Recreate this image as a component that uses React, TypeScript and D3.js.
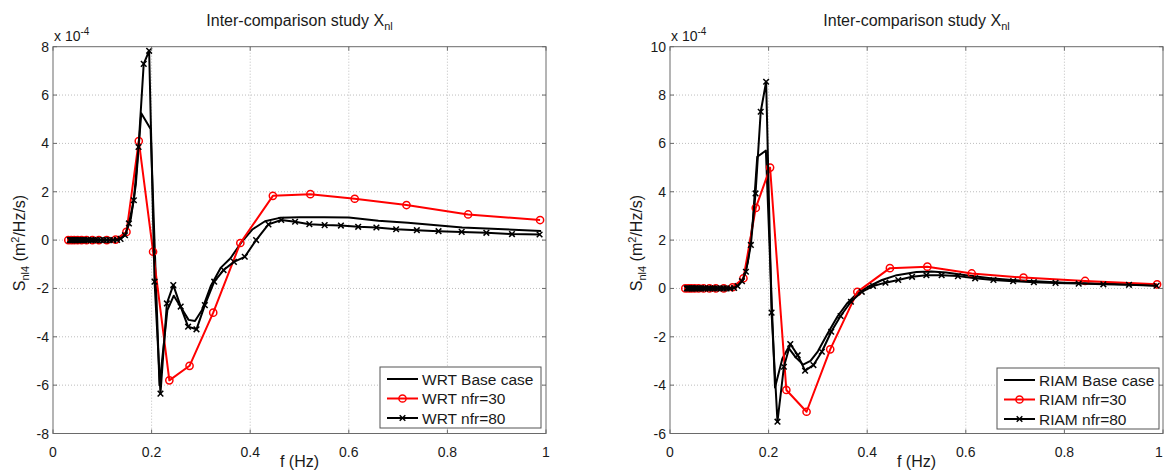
import React from "react";
import * as d3 from "d3";

// ---------- data (values in units of 1e-4 m^2/Hz/s) ----------
const xTicks = [0, 0.2, 0.4, 0.6, 0.8, 1];
const xTickLabels = ["0", "0.2", "0.4", "0.6", "0.8", "1"];
const yTicksLeft = [-8, -6, -4, -2, 0, 2, 4, 6, 8];
const yTicksRight = [-6, -4, -2, 0, 2, 4, 6, 8, 10];

const freqNfr30 = [0.031, 0.037, 0.043, 0.05, 0.058, 0.068, 0.08, 0.093, 0.109, 0.127, 0.149, 0.174, 0.203, 0.236, 0.277, 0.325, 0.38, 0.446, 0.522, 0.612, 0.717, 0.842, 0.988];
const freqNfr80 = [0.034, 0.036, 0.038, 0.04, 0.043, 0.045, 0.048, 0.051, 0.054, 0.057, 0.061, 0.064, 0.068, 0.072, 0.077, 0.081, 0.086, 0.091, 0.097, 0.103, 0.109, 0.115, 0.122, 0.13, 0.137, 0.146, 0.154, 0.164, 0.1735, 0.184, 0.195, 0.206, 0.218, 0.231, 0.244, 0.259, 0.274, 0.291, 0.308, 0.327, 0.346, 0.367, 0.389, 0.412, 0.437, 0.463, 0.491, 0.52, 0.551, 0.584, 0.619, 0.656, 0.696, 0.738, 0.782, 0.829, 0.879, 0.931, 0.987];

const wrtBaseFreq = [0.034, 0.05, 0.07, 0.09, 0.11, 0.125, 0.137, 0.148, 0.158, 0.168, 0.179, 0.198, 0.216, 0.232, 0.245, 0.26, 0.275, 0.288, 0.302, 0.32, 0.34, 0.36, 0.383, 0.405, 0.43, 0.46, 0.5, 0.55, 0.6, 0.66, 0.72, 0.83, 0.99];
const wrtBase = [0, 0, 0, 0, 0, 0.02, 0.08, 0.3, 0.9, 2.3, 5.25, 4.6, -6.0, -2.9, -2.3, -2.8, -3.3, -3.35, -2.9, -1.9, -1.15, -0.75, -0.07, 0.45, 0.78, 0.92, 0.95, 0.95, 0.93, 0.8, 0.72, 0.52, 0.38];
const wrtNfr30 = [0, 0, 0, 0, 0, 0, 0, 0, 0, 0.02, 0.34, 4.1, -0.48, -5.8, -5.2, -3.0, -0.12, 1.83, 1.9, 1.71, 1.45, 1.06, 0.83];
const wrtNfr80 = [0, 0, 0, 0, 0, 0, 0, 0, 0, 0, 0, 0, 0, 0, 0, 0, 0, 0, 0, 0, 0, 0, 0, 0.01, 0.05, 0.2, 0.69, 1.65, 3.85, 7.29, 7.83, -1.72, -6.35, -2.62, -1.86, -2.75, -3.58, -3.69, -2.69, -1.72, -1.24, -0.9, -0.69, 0.0, 0.65, 0.83, 0.76, 0.66, 0.62, 0.6, 0.55, 0.52, 0.45, 0.41, 0.37, 0.34, 0.3, 0.25, 0.23];

const riamBaseFreq = [0.034, 0.05, 0.07, 0.09, 0.11, 0.125, 0.137, 0.148, 0.158, 0.168, 0.177, 0.1945, 0.213, 0.228, 0.24, 0.255, 0.27, 0.285, 0.3, 0.32, 0.34, 0.36, 0.38, 0.4, 0.43, 0.46, 0.5, 0.53, 0.56, 0.6, 0.65, 0.7, 0.8, 0.9, 0.99];
const riamBase = [0, 0, 0, 0, 0, 0.02, 0.1, 0.35, 1.1, 2.8, 5.45, 5.7, -4.1, -2.9, -2.45, -2.85, -3.15, -3.0, -2.6, -1.85, -1.15, -0.6, -0.2, 0.05, 0.35, 0.55, 0.68, 0.7, 0.66, 0.55, 0.42, 0.34, 0.24, 0.18, 0.12];
const riamNfr30 = [0, 0, 0, 0, 0, 0, 0, 0, 0, 0.05, 0.42, 3.33, 5.0, -4.2, -5.1, -2.52, -0.14, 0.84, 0.9, 0.62, 0.45, 0.31, 0.17];
const riamNfr80 = [0, 0, 0, 0, 0, 0, 0, 0, 0, 0, 0, 0, 0, 0, 0, 0, 0, 0, 0, 0, 0, 0, 0, 0.02, 0.1, 0.3, 0.69, 1.8, 3.93, 7.31, 8.55, -1.0, -5.51, -3.24, -2.3, -2.76, -3.4, -3.17, -2.62, -1.79, -1.14, -0.55, -0.14, 0.1, 0.24, 0.35, 0.48, 0.55, 0.55, 0.51, 0.42, 0.35, 0.3, 0.26, 0.23, 0.2, 0.17, 0.15, 0.11];

const legendWRT = ["WRT Base case", "WRT nfr=30", "WRT nfr=80"];
const legendRIAM = ["RIAM Base case", "RIAM nfr=30", "RIAM nfr=80"];

// ---------- layout ----------
const W = 1164;
const H = 470;
const Y_TOP = 46.7;
const Y_BOT = 433.5;
const FONT = "'Liberation Sans', Arial, Helvetica, sans-serif";

type Series = { f: number[]; v: number[]; color: string; marker: "none" | "o" | "x" };

function zip(f: number[], v: number[]): [number, number][] {
  return f.map((x, i) => [x, v[i]] as [number, number]);
}

function Marker({ type, x, y, color }: { type: string; x: number; y: number; color: string }) {
  if (type === "o") return <circle cx={x} cy={y} r={3.6} fill="none" stroke={color} strokeWidth={1.5} />;
  if (type === "x") {
    const s = 2.8;
    return (
      <g stroke={color} strokeWidth={1.5}>
        <line x1={x - s} y1={y - s} x2={x + s} y2={y + s} />
        <line x1={x - s} y1={y + s} x2={x + s} y2={y - s} />
      </g>
    );
  }
  return null;
}

function Panel(props: {
  id: string;
  x0: number;
  x1: number;
  yDomain: [number, number];
  yTicks: number[];
  series: Series[];
  legend: string[];
  legendBox: { x: number; y: number; w: number; h: number };
  ylabelX: number;
}) {
  const { id, x0, x1, yDomain, yTicks, series, legend, legendBox, ylabelX } = props;
  const xs = d3.scaleLinear().domain([0, 1]).range([x0, x1]);
  const ys = d3.scaleLinear().domain(yDomain).range([Y_BOT, Y_TOP]);
  const line = d3
    .line<[number, number]>()
    .x((d) => xs(d[0]))
    .y((d) => ys(d[1]));
  const cx = (x0 + x1) / 2;
  const axisColor = "#6a6a6a";
  const tl = 4;
  return (
    <g>
      <defs>
        <clipPath id={id}>
          <rect x={x0} y={Y_TOP - 6} width={x1 - x0} height={Y_BOT - Y_TOP + 12} />
        </clipPath>
      </defs>
      <rect x={x0} y={Y_TOP} width={x1 - x0} height={Y_BOT - Y_TOP} fill="#fff" />
      {/* grid */}
      {xTicks.slice(1, -1).map((t) => (
        <line key={"gx" + t} x1={xs(t)} x2={xs(t)} y1={Y_TOP} y2={Y_BOT} stroke="#bdbdbd" strokeWidth={1} strokeDasharray="1,2" />
      ))}
      {yTicks.slice(1, -1).map((t) => (
        <line key={"gy" + t} x1={x0} x2={x1} y1={ys(t)} y2={ys(t)} stroke="#bdbdbd" strokeWidth={1} strokeDasharray="1,2" />
      ))}
      {/* series */}
      <g clipPath={`url(#${id})`}>
        {series.map((s, i) => (
          <g key={i}>
            <path d={line(zip(s.f, s.v)) || ""} fill="none" stroke={s.color} strokeWidth={2} strokeLinejoin="round" />
            {s.marker !== "none" &&
              s.f.map((f, j) => <Marker key={j} type={s.marker} x={xs(f)} y={ys(s.v[j])} color={s.color} />)}
          </g>
        ))}
      </g>
      {/* axes box */}
      <rect x={x0} y={Y_TOP} width={x1 - x0} height={Y_BOT - Y_TOP} fill="none" stroke={axisColor} strokeWidth={1} />
      {xTicks.map((t) => (
        <g key={"tx" + t} stroke={axisColor}>
          <line x1={xs(t)} x2={xs(t)} y1={Y_BOT} y2={Y_BOT - tl} />
          <line x1={xs(t)} x2={xs(t)} y1={Y_TOP} y2={Y_TOP + tl} />
        </g>
      ))}
      {yTicks.map((t) => (
        <g key={"ty" + t} stroke={axisColor}>
          <line x1={x0} x2={x0 + tl} y1={ys(t)} y2={ys(t)} />
          <line x1={x1} x2={x1 - tl} y1={ys(t)} y2={ys(t)} />
        </g>
      ))}
      {/* tick labels */}
      {xTicks.map((t, i) => (
        <text key={"lx" + t} x={Math.min(xs(t), W - 5)} y={457} textAnchor="middle" fontSize={14} fill="#1a1a1a">
          {xTickLabels[i]}
        </text>
      ))}
      {yTicks.map((t) => (
        <text key={"ly" + t} x={x0 - 4} y={ys(t) + 5} textAnchor="end" fontSize={14} fill="#1a1a1a">
          {t}
        </text>
      ))}
      {/* exponent */}
      <text x={x0 + 1} y={41} fontSize={14} fill="#1a1a1a">
        x 10<tspan dy={-6} fontSize={10}>-4</tspan>
      </text>
      {/* title */}
      <text x={cx} y={26} textAnchor="middle" fontSize={16} fill="#1a1a1a">
        Inter-comparison study X<tspan dy={4} fontSize={11}>nl</tspan>
      </text>
      {/* x label */}
      <text x={cx} y={467} textAnchor="middle" fontSize={16} fill="#1a1a1a">
        f (Hz)
      </text>
      {/* y label */}
      <text transform={`translate(${ylabelX},${243}) rotate(-90)`} textAnchor="middle" fontSize={16} fill="#1a1a1a">
        S<tspan dy={4} fontSize={11}>nl4</tspan>
        <tspan dy={-4}> (m</tspan>
        <tspan dy={-6} fontSize={11}>2</tspan>
        <tspan dy={6}>/Hz/s)</tspan>
      </text>
      {/* legend */}
      <rect x={legendBox.x} y={legendBox.y} width={legendBox.w} height={legendBox.h} fill="#fff" stroke="#555" strokeWidth={1} />
      {series.map((s, i) => {
        const ly = legendBox.y + 12 + i * 19.5;
        const lx0 = legendBox.x + 7;
        const lx1 = lx0 + 31;
        return (
          <g key={"lg" + i}>
            <line x1={lx0} x2={lx1} y1={ly} y2={ly} stroke={s.color} strokeWidth={2} />
            {s.marker !== "none" && <Marker type={s.marker} x={(lx0 + lx1) / 2} y={ly} color={s.color} />}
            <text x={lx1 + 4} y={ly + 5.5} fontSize={15.5} fill="#1a1a1a">
              {legend[i]}
            </text>
          </g>
        );
      })}
    </g>
  );
}

export default function App() {
  const wrtSeries: Series[] = [
    { f: wrtBaseFreq, v: wrtBase, color: "#000", marker: "none" },
    { f: freqNfr30, v: wrtNfr30, color: "#ff0000", marker: "o" },
    { f: freqNfr80, v: wrtNfr80, color: "#000", marker: "x" },
  ];
  const riamSeries: Series[] = [
    { f: riamBaseFreq, v: riamBase, color: "#000", marker: "none" },
    { f: freqNfr30, v: riamNfr30, color: "#ff0000", marker: "o" },
    { f: freqNfr80, v: riamNfr80, color: "#000", marker: "x" },
  ];
  return (
    <svg
      width={W}
      height={H}
      style={{ position: "absolute", left: 0, top: 0, background: "#fff", fontFamily: FONT }}
      fontFamily={FONT}
    >
      <rect width={W} height={H} fill="#fff" />
      <Panel
        id="clipL"
        x0={53}
        x1={546}
        yDomain={[-8, 8]}
        yTicks={yTicksLeft}
        series={wrtSeries}
        legend={legendWRT}
        legendBox={{ x: 380, y: 367, w: 161, h: 61 }}
        ylabelX={25}
      />
      <Panel
        id="clipR"
        x0={670}
        x1={1163}
        yDomain={[-6, 10]}
        yTicks={yTicksRight}
        series={riamSeries}
        legend={legendRIAM}
        legendBox={{ x: 997, y: 368, w: 162, h: 61 }}
        ylabelX={642}
      />
    </svg>
  );
}
